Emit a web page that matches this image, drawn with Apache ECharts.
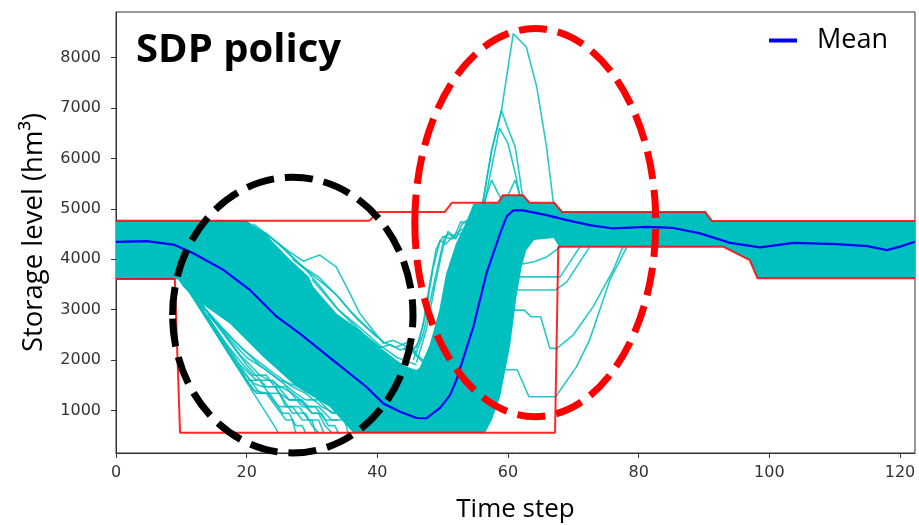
<!DOCTYPE html>
<html><head><meta charset="utf-8">
<script src="https://cdn.jsdelivr.net/npm/echarts@6/dist/echarts.min.js"></script>
<style>html,body{margin:0;padding:0;background:#fff}#c{width:919px;height:525px}</style>
</head><body><div id="c"></div>
<script>
// ---- axis ticks ----
const xTicks = [0, 20, 40, 60, 80, 100, 120];
const yTicks = [1000, 2000, 3000, 4000, 5000, 6000, 7000, 8000];

// ---- mean trajectory ----
const meanT = [0, 4.7, 8.8, 11.9, 16.4, 20.5, 24.6, 28.1, 33.2, 38.3, 40.9, 43.4, 46, 47.5, 49.6, 51.1, 52.1, 54.7, 56.7, 58.8, 59.8, 60.8, 62.3, 65.9, 69, 72.5, 76.1, 81.2, 85.3, 89.4, 94, 98.6, 103.7, 110.3, 115, 118, 120, 122.3];
const meanV = [4345, 4360, 4290, 4115, 3790, 3390, 2860, 2530, 2000, 1470, 1140, 980, 850, 845, 1050, 1300, 1600, 2660, 3718, 4512, 4850, 4970, 4970, 4875, 4775, 4676, 4610, 4640, 4620, 4512, 4325, 4234, 4325, 4300, 4260, 4181, 4250, 4345];

// ---- red bounds ----
const upperT = [0, 38.8, 40.1, 50.3, 51.4, 58.5, 59.2, 62.3, 63.3, 67.1, 68.3, 90.2, 91.2, 122.3];
const upperV = [4765, 4765, 4935, 4935, 5118, 5118, 5270, 5270, 5118, 5118, 4935, 4935, 4760, 4760];
const lowerT = [0, 9, 9.8, 67.2, 67.7, 93, 97, 98.2, 122.3];
const lowerV = [3610, 3610, 560, 560, 4246, 4246, 3983, 3620, 3620];

// ---- dense envelope of the simulated trajectories ----
const bandTopT = [0, 20, 23, 26.6, 29.5, 30.2, 33.7, 37.3, 40.3, 42.9, 44.5, 46, 46.5, 48, 49.5, 50.5, 52, 53.7, 54.7, 58.5, 59.2, 62.3, 63.3, 67.1, 68.3, 90.2, 91.2, 122.3];
const bandTopV = [4765, 4765, 4480, 4000, 3650, 3453, 2926, 2595, 2264, 2000, 1867, 1800, 1850, 2300, 3000, 3700, 4300, 4775, 5100, 5110, 5260, 5260, 5110, 5110, 4930, 4930, 4750, 4750];
const bandBotT = [0, 9.5, 10.3, 12.3, 17.4, 22.5, 27.6, 32.7, 36.3, 56.5, 57.5, 58.8, 60.3, 61.3, 62.1, 62.8, 64, 67, 67.8, 93, 97, 98.2, 122.3];
const bandBotV = [3600, 3600, 3450, 3190, 2727, 2066, 1470, 1075, 560, 560, 800, 1270, 2264, 3255, 3850, 4180, 4380, 4420, 4250, 4250, 3983, 3620, 3620];

// ---- individual visible trajectories ----
const fan1 = [[0, 4740], [19, 4750], [23, 4512], [26.6, 4100], [29, 3800], [31, 3500], [34, 3000], [37.3, 2650], [40.3, 2300], [43, 2050], [46, 1900]];
const fan2 = [[20, 4740], [24, 4400], [26.5, 4150], [28.7, 3960], [29.7, 4016], [31.2, 4082], [33.7, 3850], [35.8, 3322], [37.3, 2926], [40.9, 2331], [42.4, 2390], [44, 2300], [45.5, 2150], [47, 1950]];
const fan3 = [[30, 3600], [34, 3000], [38, 2500], [40.5, 2250], [42, 2310], [43.5, 2200], [45, 2280], [46, 2100], [47.5, 1950]];
const fan4 = [[27, 4000], [30, 3700], [33.7, 3300], [36, 2950], [38, 2700], [41, 2350], [42.8, 2250], [44.5, 2350], [46, 2150]];
const fan5 = [[21, 4700], [25, 4300], [28, 3900], [31, 3650], [34, 3250], [37, 2800], [40, 2450]];
const rise1 = [[44, 2200], [46, 2250], [47, 2700], [48, 3500], [49, 4200], [50, 4450], [51.5, 4400], [52.5, 4500], [54, 4550]];
const rise2 = [[45, 2100], [46.5, 2400], [47.5, 3000], [48.5, 3800], [49.6, 4380], [50.5, 4300], [51.5, 4450], [53, 4600]];
const rise3 = [[45.5, 2000], [47, 2500], [48.3, 3300], [49.5, 4000], [50.3, 4450], [51, 4500], [52, 4400], [53, 4700], [54.5, 4850]];
const rise4 = [[46, 1950], [47.5, 2600], [49, 3600], [50, 4200], [50.8, 4550], [51.8, 4450], [52.8, 4750], [54, 4700]];
const spike1 = [[55, 4300], [56.2, 5170], [57.5, 6160], [59, 6950], [60.8, 8476], [62.8, 8210], [64.4, 7418], [65.9, 6228], [66.9, 5170], [67.5, 4900]];
const spike2 = [[55, 4300], [56.2, 5170], [57.5, 6160], [59, 6950], [59.9, 6625], [61.1, 6228], [61.8, 5633], [62.3, 5170], [63, 4900]];
const spike3 = [[55.5, 4500], [57, 5500], [58.7, 6600], [60, 6300], [61.3, 5600], [62, 5100]];
const spike4 = [[55, 4600], [57.5, 5570], [58.5, 5300], [59.5, 5100]];
const spike5 = [[59, 5000], [61.1, 5570], [62, 5200]];
const late1 = [[59.3, 1807], [61.4, 1807], [63.2, 1273], [67.3, 1273], [70.5, 1870], [72.5, 2400], [75.6, 3590], [78.2, 4246]];
const late2 = [[60.2, 2990], [62.5, 2990], [63.5, 2860], [65, 2860], [66.4, 2232], [67.5, 2232], [70, 2500], [73, 3050], [76.1, 3785], [77.6, 4246]];
const late3 = [[60.8, 3390], [67.3, 3390], [69, 3550], [72.5, 4246]];
const late4 = [[61.6, 3650], [68, 3650], [71, 4246]];
const late5 = [[62, 3900], [64, 3950], [66, 4050], [68, 4246]];
const lat1 = [[10, 3600], [24.6, 620], [24.8, 560]];
const lat2 = [[10, 3600], [17, 2200], [21, 1400], [23, 1340], [26, 811], [27, 811], [27.5, 560]];
const lat3 = [[10.5, 3550], [18, 2050], [22, 1340], [25, 1340], [27, 944], [29, 944], [30, 700], [31, 560]];
const lat4 = [[11, 3450], [19, 1900], [21.5, 1600], [24, 1600], [26.5, 1210], [28, 1210], [30, 944], [31.5, 944], [32.5, 700], [33.5, 700], [34, 560]];
const lat5 = [[11.5, 3380], [20, 1900], [23, 1470], [26, 1470], [28.5, 1075], [31, 1075], [33, 811], [35, 811], [35.5, 560]];
const lat6 = [[12, 3300], [19, 2100], [22, 1700], [27, 1340], [29.5, 1075], [30.5, 1075], [32, 811], [34, 811]];
const lat7 = [[12.5, 3200], [17.5, 2400], [20, 2050], [23, 1800], [25, 1600], [27.5, 1340], [29, 1210], [31, 1210], [33, 944], [35, 944]];
const lat8 = [[13, 3100], [18, 2400], [22, 1900], [25, 1600], [28, 1470], [30, 1340], [33, 1075]];
const lat9 = [[10, 3600], [15, 2600], [19, 1800], [20, 1600], [22, 1600], [24, 1210], [25, 1075], [27, 1075], [28.5, 811], [30, 811], [30.5, 560]];
const lat10 = [[10.3, 3550], [16, 2400], [20, 1600], [21.5, 1340], [23.5, 1340], [25.5, 944], [26.5, 944], [27.5, 700], [28.5, 700], [29, 560]];
const lat11 = [[14, 2900], [19.5, 2200], [24, 1750], [27, 1470], [29, 1340], [31.5, 1075], [33.5, 944], [36, 944]];
const lat12 = [[11, 3480], [14, 2850], [17, 2300], [19.5, 1900], [21, 1700], [23, 1700], [25, 1340], [26.5, 1210], [28.5, 1210], [30, 944], [31, 944], [32, 700], [33, 560]];
const lat13 = [[10.8, 3500], [15.5, 2500], [18.5, 1900], [21, 1540], [22.5, 1470], [24.5, 1470], [26, 1075], [28, 1075], [29.5, 811], [31, 811], [31.8, 560]];

// ---- annotation ellipses: centre (t, level) and radii (t, level) ----
const blackEllipse = [27.06, 2892, 18.4, 2735];
const redEllipse = [64.18, 4726, 18.44, 3849];

const pair = (T, V) => T.map((t, i) => [t, V[i]]);
const bandPoly = pair(bandTopT, bandTopV).concat(pair(bandBotT, bandBotV).reverse());
const cyanTrajs = [lat1, lat2, lat3, lat4, lat5, lat6, lat7, lat8, lat9, lat10, lat11, lat12, lat13,
  fan1, fan2, fan3, fan4, fan5, rise1, rise2, rise3, rise4,
  spike1, spike2, spike3, spike4, spike5, late1, late2, late3, late4, late5];

const CYAN = '#00bfbf';
const ellipseRender = (color) => (params, api) => {
  const c = api.coord([api.value(0), api.value(1)]);
  const s = api.size([api.value(2), api.value(3)]);
  return { type: 'ellipse', shape: { cx: c[0], cy: c[1], rx: s[0], ry: s[1] },
    style: { fill: 'none', stroke: color, lineWidth: 7, lineDash: [28, 11] } };
};

const chart = echarts.init(document.getElementById('c'));
const axisCommon = {
  axisLine: { show: true, onZero: false, lineStyle: { color: '#333', width: 1 } },
  splitLine: { show: false }
};
chart.setOption({
  animation: false,
  title: { text: 'SDP policy', left: 136, top: 31, padding: 0,
    textStyle: { fontSize: 40, fontWeight: 'bold', fontFamily: 'Open Sans', color: '#000' } },
  legend: { data: ['Mean'], left: 769, top: 27, padding: 0, icon: 'rect', itemWidth: 28, itemHeight: 4,
    textStyle: { fontSize: 27, fontFamily: 'Open Sans', color: '#000', padding: [0, 0, 0, 15] } },
  grid: { left: 116, top: 12, width: 799, height: 441, show: true, borderColor: '#333', borderWidth: 1,
    containLabel: false, outerBoundsMode: 'none' },
  xAxis: Object.assign({ type: 'value', min: 0, max: 122.3, name: 'Time step', nameLocation: 'middle', nameGap: 44,
    nameTextStyle: { fontSize: 26, fontFamily: 'Open Sans', color: '#000' },
    axisTick: { show: true, length: 5, customValues: xTicks, lineStyle: { color: '#333' } },
    axisLabel: { customValues: xTicks, fontSize: 16, fontFamily: 'DejaVu Sans', color: '#333', margin: 12, formatter: v => String(v) } }, axisCommon),
  yAxis: Object.assign({ type: 'value', min: 156, max: 8904, name: 'Storage level (hm³)', nameLocation: 'middle', nameGap: 68,
    nameTextStyle: { fontSize: 27.5, fontFamily: 'Open Sans', color: '#000' },
    axisTick: { show: true, length: 5, customValues: yTicks, lineStyle: { color: '#333' } },
    axisLabel: { customValues: yTicks, fontSize: 16, fontFamily: 'DejaVu Sans', color: '#333', margin: 15, formatter: v => String(v) } }, axisCommon),
  series: [
    { type: 'custom', silent: true, z: 1, data: [[0, 0]],
      renderItem: (params, api) => ({ type: 'polygon', shape: { points: bandPoly.map(q => api.coord(q)) }, style: { fill: CYAN } }) },
    ...cyanTrajs.map(d => ({ type: 'line', data: d, symbol: 'none', silent: true, z: 2,
      lineStyle: { color: CYAN, width: 1.6, opacity: 0.85 } })),
    { type: 'line', data: pair(upperT, upperV), symbol: 'none', silent: true, z: 3, lineStyle: { color: '#ff0000', width: 2, opacity: 0.85 } },
    { type: 'line', data: pair(lowerT, lowerV), symbol: 'none', silent: true, z: 3, lineStyle: { color: '#ff0000', width: 2, opacity: 0.85 } },
    { type: 'line', name: 'Mean', data: pair(meanT, meanV), symbol: 'none', color: '#0000ff', z: 4, lineStyle: { color: '#0000ff', width: 2.2 } },
    { type: 'custom', silent: true, z: 5, data: [blackEllipse], renderItem: ellipseRender('#000000') },
    { type: 'custom', silent: true, z: 5, data: [redEllipse], renderItem: ellipseRender('#ff0000') }
  ]
});
</script></body></html>
